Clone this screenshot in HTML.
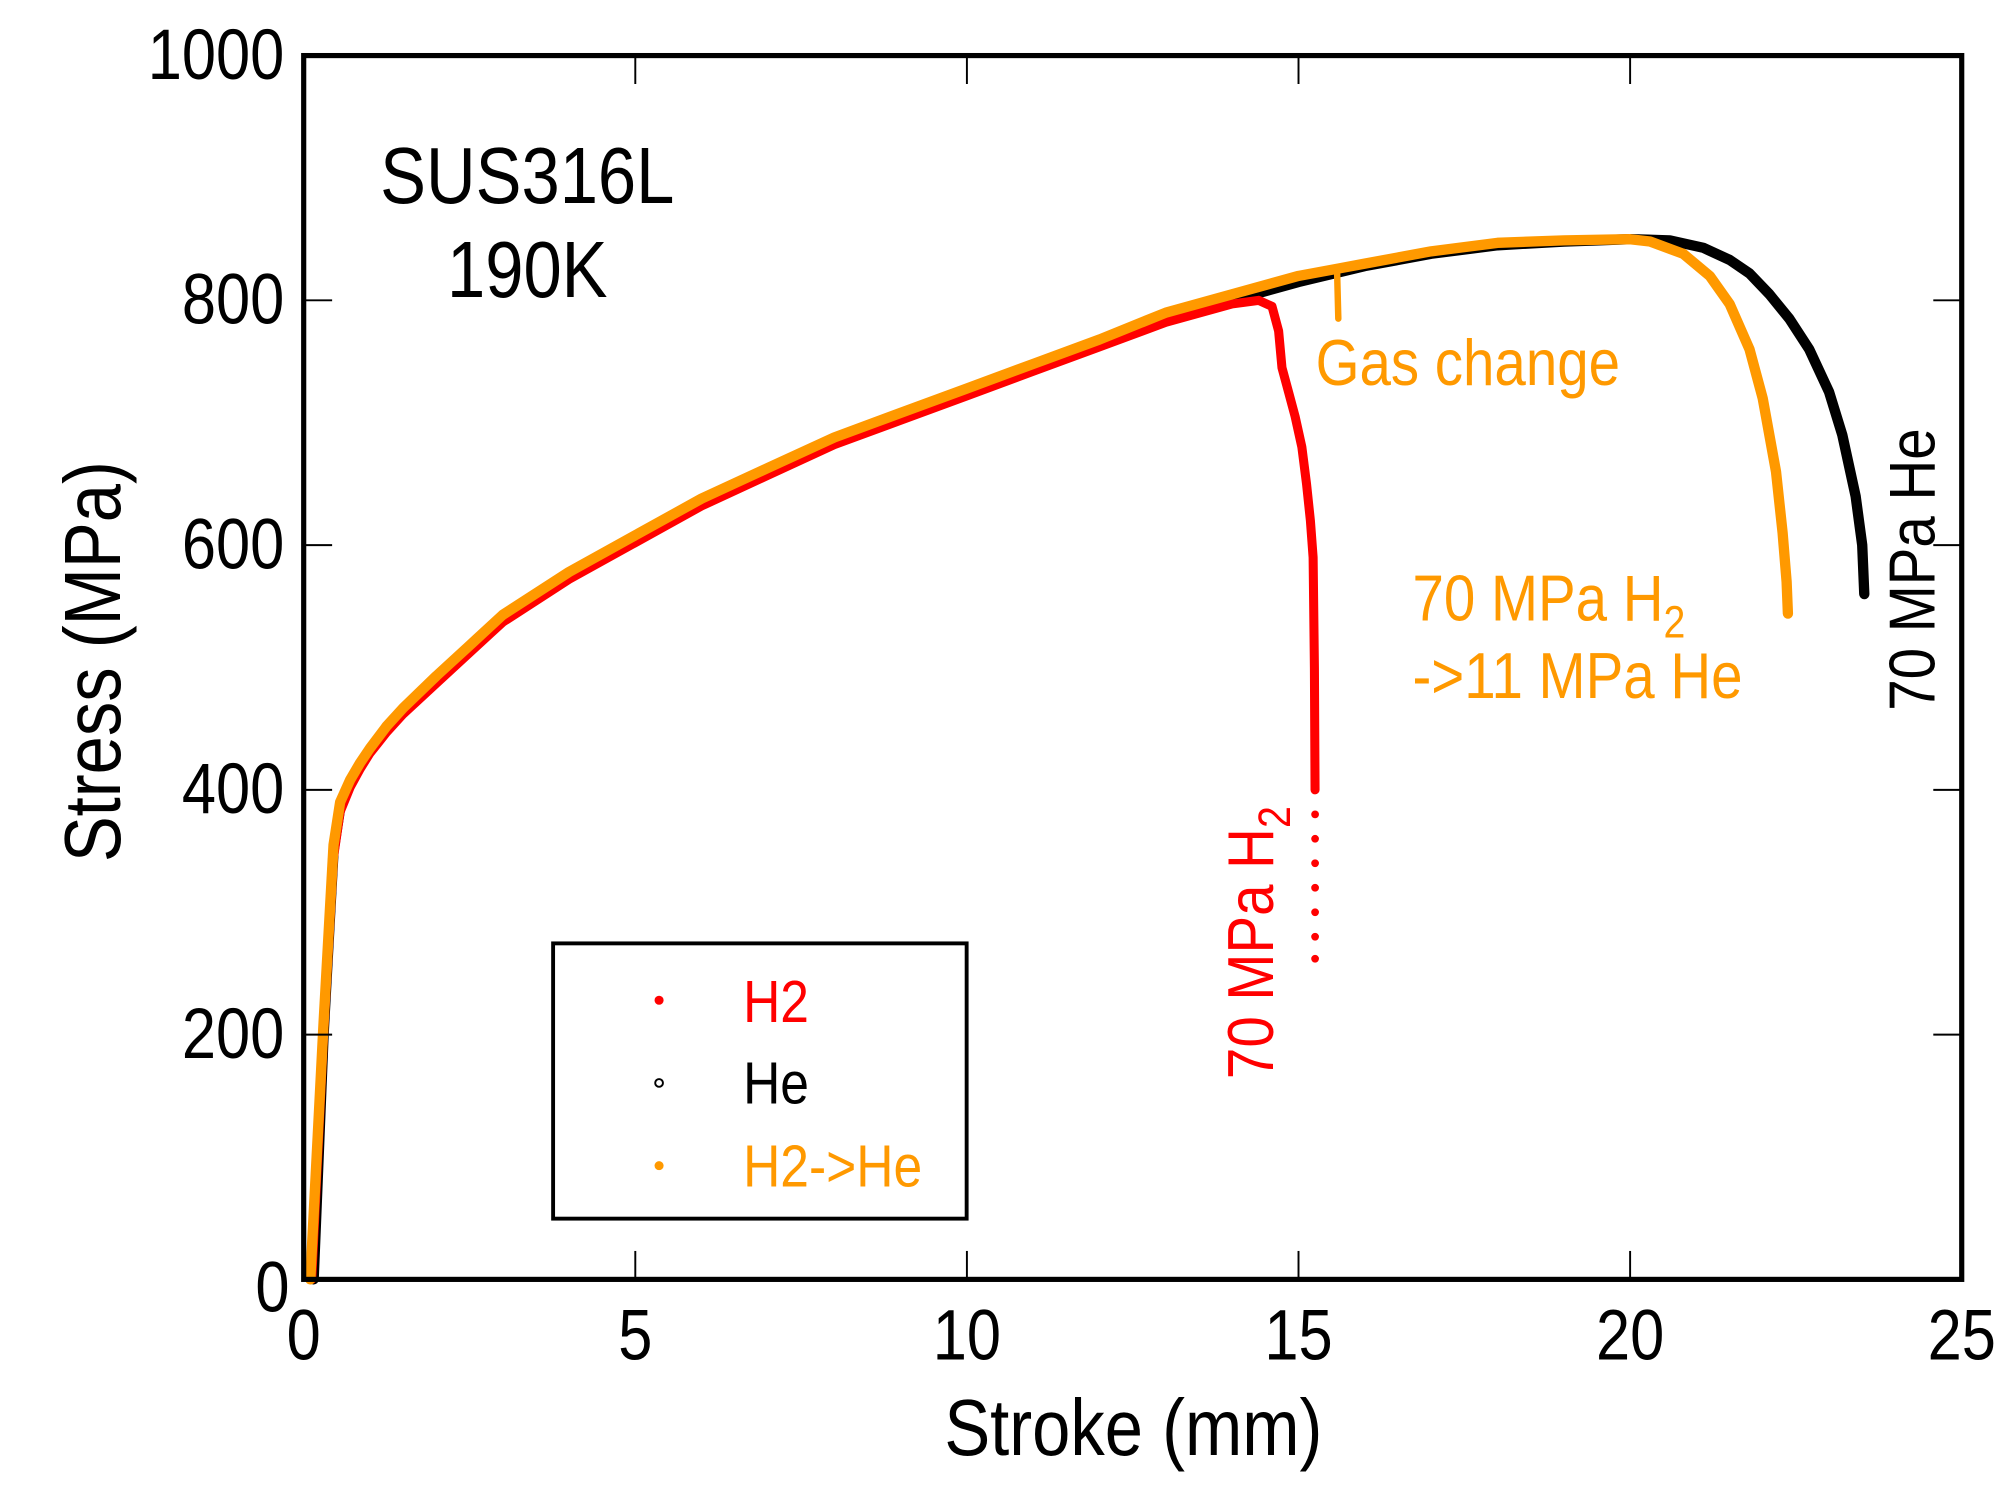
<!DOCTYPE html>
<html><head><meta charset="utf-8"><title>SUS316L 190K stress-stroke</title>
<style>
html,body{margin:0;padding:0;background:#fff;}
svg{display:block;}
text{font-family:"Liberation Sans",Arial,sans-serif;}
</style></head>
<body>
<svg id="chart" width="2016" height="1493" viewBox="0 0 1560 1155.3" xmlns="http://www.w3.org/2000/svg">
<rect x="0" y="0" width="1560" height="1156" fill="#fff"/>
<g id="marks"></g>
<rect x="235" y="43" width="1283" height="947" fill="none" stroke="#000" stroke-width="4"/>
<g id="axes"></g>
<text transform="translate(408,157) scale(0.95,1.1)" font-size="56" text-anchor="middle">SUS316L</text>
<text transform="translate(408,230) scale(0.95,1.1)" font-size="56" text-anchor="middle">190K</text>
<text transform="translate(877,1126) scale(0.95,1.1)" font-size="56" text-anchor="middle">Stroke (mm)</text>
<text transform="translate(93,512) rotate(-90) scale(0.95,1.1)" font-size="56" text-anchor="middle">Stress (MPa)</text>
<text transform="translate(1018,298) scale(0.95,1.1)" font-size="46" fill="#ff9900">Gas change</text>
<text transform="translate(1093,480) scale(0.95,1.1)" font-size="46" fill="#ff9900">70 MPa H<tspan font-size="32" dy="12">2</tspan></text>
<text transform="translate(1093,540) scale(0.95,1.1)" font-size="46" fill="#ff9900">-&gt;11 MPa He</text>
<text transform="translate(985,835) rotate(-90) scale(0.95,1.1)" font-size="46" fill="#ff0000">70 MPa H<tspan font-size="32" dy="12">2</tspan></text>
<text transform="translate(1497,550) rotate(-90) scale(0.95,1.1)" font-size="46" fill="#000">70 MPa He</text>
<g>
<rect x="428" y="730" width="320" height="213" fill="#fff" stroke="#000" stroke-width="3"/>
<circle cx="510" cy="774" r="3.5" fill="#ff0000"/>
<text transform="translate(575,791) scale(0.95,1.1)" font-size="42" fill="#ff0000">H2</text>
<circle cx="510" cy="838" r="3" fill="none" stroke="#000" stroke-width="1.5"/>
<text transform="translate(575,854) scale(0.95,1.1)" font-size="42" fill="#000">He</text>
<circle cx="510" cy="902" r="3.5" fill="#ff9900"/>
<text transform="translate(575,918) scale(0.95,1.1)" font-size="42" fill="#ff9900">H2-&gt;He</text>
</g>
</svg>
<script>
const xTicks = [0, 5, 10, 15, 20, 25];
const yTicks = [0, 200, 400, 600, 800, 1000];
const heX = [0.15,0.3,0.45,0.55,0.7,0.85,1,1.25,1.5,2,2.5,3,4,5,6,7,8,9,10,11,12,13,14,15,16,17,18,19,20,20.6,21.1,21.5,21.8,22.1,22.4,22.7,23.0,23.2,23.4,23.5,23.53];
const heY = [0,200,350,385,405,420,432,450,465,490,515,540,575,605,635,660,685,705,725,745,765,785,800,815,828,838,845,848,850,849,843,833,822,805,785,760,725,690,640,600,560];
const h2X = [0.12,0.3,0.45,0.55,0.7,0.85,1,1.25,1.5,2,2.5,3,4,5,6,7,8,9,10,11,12,13,14,14.4,14.6,14.7,14.75,14.85,14.95,15.05,15.12,15.18,15.22,15.24,15.25];
const h2Y = [0,200,345,382,402,417,430,447,462,487,512,537,572,602,632,657,682,702,722,742,762,782,797,800,795,775,745,725,705,680,650,620,590,500,400];
const h2TailY = [380,360,340,320,300,280,262];
const mixX = [0.1,0.3,0.45,0.55,0.7,0.85,1,1.25,1.5,2,2.5,3,4,5,6,7,8,9,10,11,12,13,14,15,15.6,16,17,18,19,20,20.3,20.8,21.2,21.5,21.8,22.0,22.2,22.3,22.36,22.38];
const mixY = [0,210,355,390,408,422,434,452,467,493,518,543,578,608,638,663,688,708,728,748,768,790,805,820,826,830,840,847,849,850,848,838,820,797,760,720,660,610,570,544];
const gasChangeX = [15.58, 15.6];
const gasChangeY = [826, 785];

const L=235,R=1518,T=43,B=990;
const sx = v => L + (v/25)*(R-L);
const sy = v => B - (v/1000)*(B-T);
const NS="http://www.w3.org/2000/svg";
const marks=document.getElementById('marks');
const axes=document.getElementById('axes');

function line(xs,ys,color,w,name){
  const p=document.createElementNS(NS,'polyline');
  p.setAttribute('points',xs.map((x,i)=>sx(x).toFixed(1)+','+sy(ys[i]).toFixed(1)).join(' '));
  p.setAttribute('fill','none');p.setAttribute('stroke',color);p.setAttribute('stroke-width',w);
  p.setAttribute('stroke-linejoin','round');p.setAttribute('stroke-linecap','round');
  
  
  marks.appendChild(p);
}
line(heX,heY,'#000',8,'series-he');
line(h2X,h2Y,'#ff0000',7,'series-h2');
line(mixX,mixY,'#ff9900',8,'series-h2-to-he');
line(gasChangeX,gasChangeY,'#ff9900',5,'gas-change-dip');
h2TailY.forEach(v=>{
  const c=document.createElementNS(NS,'circle');
  c.setAttribute('cx',sx(15.25));c.setAttribute('cy',sy(v));c.setAttribute('r',3);c.setAttribute('fill','#ff0000');
  
  
  marks.appendChild(c);
});

xTicks.forEach(v=>{
  const x=sx(v);
  const t1=document.createElementNS(NS,'line');
  t1.setAttribute('x1',x);t1.setAttribute('x2',x);t1.setAttribute('y1',B);t1.setAttribute('y2',B-22);t1.setAttribute('stroke','#000');t1.setAttribute('stroke-width',1.5);
  
  
  axes.appendChild(t1);
  const t2=document.createElementNS(NS,'line');
  t2.setAttribute('x1',x);t2.setAttribute('x2',x);t2.setAttribute('y1',T);t2.setAttribute('y2',T+22);t2.setAttribute('stroke','#000');t2.setAttribute('stroke-width',1.5);
  
  
  axes.appendChild(t2);
  const tx=document.createElementNS(NS,'text');
  tx.setAttribute('transform','translate('+x+',1052) scale(0.95,1.1)');tx.setAttribute('font-size',50);tx.setAttribute('text-anchor','middle');
  tx.textContent=v;
  
  
  axes.appendChild(tx);
});
yTicks.forEach(v=>{
  const y=sy(v);
  const t1=document.createElementNS(NS,'line');
  t1.setAttribute('x1',L);t1.setAttribute('x2',L+22);t1.setAttribute('y1',y);t1.setAttribute('y2',y);t1.setAttribute('stroke','#000');t1.setAttribute('stroke-width',1.5);
  
  
  axes.appendChild(t1);
  const t2=document.createElementNS(NS,'line');
  t2.setAttribute('x1',R);t2.setAttribute('x2',R-22);t2.setAttribute('y1',y);t2.setAttribute('y2',y);t2.setAttribute('stroke','#000');t2.setAttribute('stroke-width',1.5);
  
  
  axes.appendChild(t2);
  const tx=document.createElementNS(NS,'text');
  tx.setAttribute('transform','translate('+(v===0?224:220)+','+(y+(v===0?25:18))+') scale(0.95,1.1)');tx.setAttribute('font-size',50);tx.setAttribute('text-anchor','end');
  tx.textContent=v;
  
  
  axes.appendChild(tx);
});
</script>
</body></html>
